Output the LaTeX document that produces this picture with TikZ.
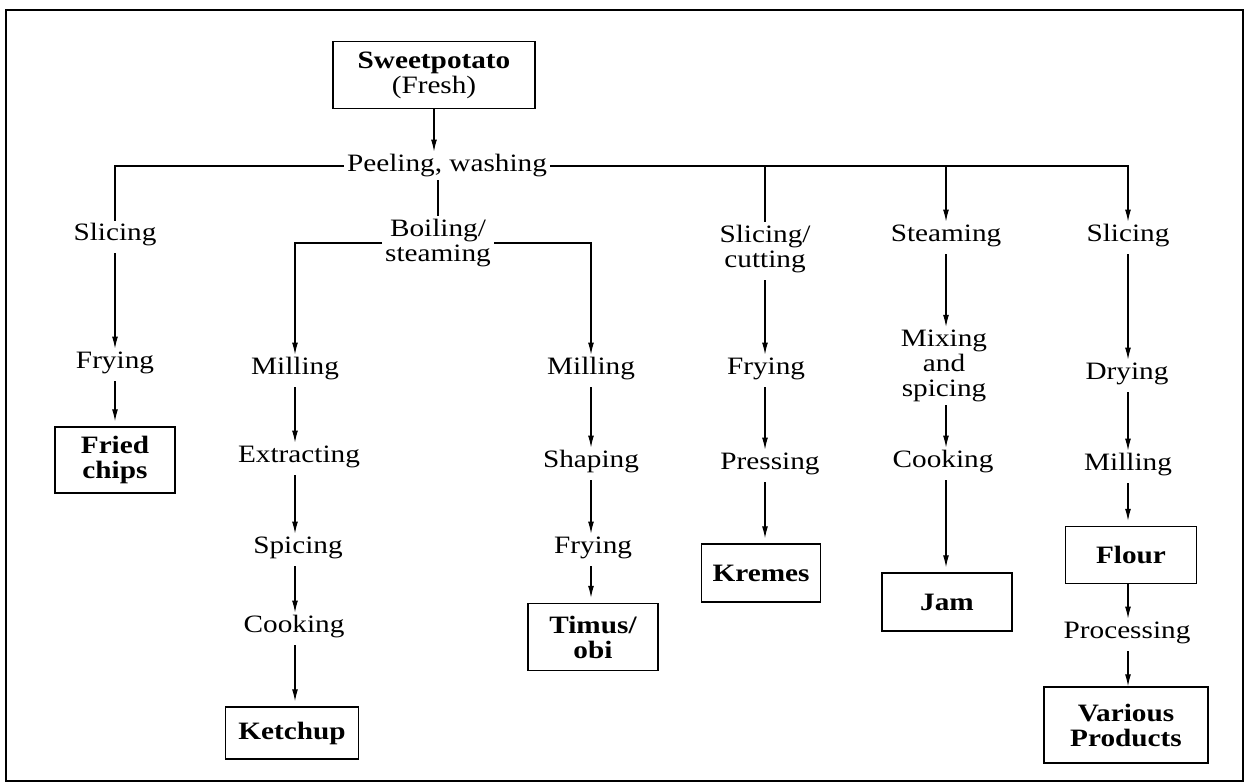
\documentclass[tikz,border=0pt]{standalone}
\usepackage{fontspec}
\setmainfont{Liberation Serif}[FakeStretch=1.17]
\usetikzlibrary{arrows.meta}
\begin{document}
\begin{tikzpicture}[x=1pt,y=-1pt,
  every node/.style={font=\fontsize{25}{25}\selectfont},
  lab/.style={inner sep=3pt,text height=17pt,text depth=5.5pt},
  lab2/.style={inner sep=3pt,align=center},
  prod/.style={draw,line width=1.5pt,align=center,inner sep=0pt,
    font=\fontsize{25}{25}\selectfont\bfseries},
  link/.style={line width=1.1pt},
  flow/.style={line width=1.1pt,-{Latex[length=12pt,width=6pt]}},
  fromlab/.style={shorten <=4pt},
  tobox/.style={shorten >=5pt}]
\useasboundingbox (0,0) rectangle (1248,784);
% outer frame
\draw[line width=1.6pt] (6,10) rectangle (1243,781);

% raw material and first step
\node[prod,minimum width=202pt,minimum height=67pt] (sweet) at (434,75)
  {Sweetpotato\\\mdseries(Fresh)};
\node[lab] (peel) at (447,166) {Peeling, washing};

% second row of steps
\node[lab] (sA) at (115,235) {Slicing};
\node[lab2] (boil) at (438,243) {Boiling/\\steaming};
\node[lab2] (sD) at (765,249) {Slicing/\\cutting};
\node[lab] (stE) at (946,236) {Steaming};
\node[lab] (sF) at (1128,236) {Slicing};

% fried chips line
\node[lab] (fA) at (115,363) {Frying};
\node[prod,minimum width=120pt,minimum height=66pt] (chips) at (115,460) {Fried\\chips};

% ketchup line
\node[lab] (mB) at (295,369) {Milling};
\node[lab] (eB) at (299,457) {Extracting};
\node[lab] (spB) at (298,548) {Spicing};
\node[lab] (cB) at (294,627) {Cooking};
\node[prod,minimum width=133pt,minimum height=52pt] (ketchup) at (292,733) {Ketchup};

% timus/obi line
\node[lab] (mC) at (591,369) {Milling};
\node[lab] (shC) at (591,462) {Shaping};
\node[lab] (fC) at (593,548) {Frying};
\node[prod,minimum width=130pt,minimum height=67pt] (timus) at (593,637) {Timus/\\obi};

% kremes line
\node[lab] (fD) at (766,369) {Frying};
\node[lab] (pD) at (770,464) {Pressing};
\node[prod,minimum width=119pt,minimum height=58pt] (kremes) at (761,573) {Kremes};

% jam line
\node[lab2] (mixE) at (944,366) {Mixing\\and\\spicing};
\node[lab] (cE) at (943,462) {Cooking};
\node[prod,minimum width=130pt,minimum height=58pt] (jam) at (947,602) {Jam};

% flour line
\node[lab] (dF) at (1127,374) {Drying};
\node[lab] (mF) at (1128,465) {Milling};
\node[prod,minimum width=131pt,minimum height=57pt] (flour) at (1131,555) {Flour};
\node[lab] (prF) at (1127,633) {Processing};
\node[prod,minimum width=164pt,minimum height=76pt] (various) at (1126,725) {Various\\Products};

% trunk
\draw[flow] (sweet.south) -- (sweet.south |- peel.north);
\draw[link] (peel.west) -| (sA.north);
\draw[flow] (peel.east) -| (sF.north);
\draw[link] (sD.north |- peel.east) -- (sD.north);
\draw[flow] (stE.north |- peel.east) -- (stE.north);
\draw[link] (boil.north |- peel.south) -- (boil.north);
\draw[flow] (boil.west) -| (mB.north);
\draw[flow] (boil.east) -| (mC.north);

% fried chips
\draw[flow,fromlab] (sA.south) -- (sA.south |- fA.north);
\draw[flow,fromlab,tobox] (fA.south) -- (chips.north);

% ketchup
\draw[flow,fromlab] (mB.south) -- (mB.south |- eB.north);
\draw[flow,fromlab] (mB.south |- eB.south) -- (mB.south |- spB.north);
\draw[flow,fromlab] (mB.south |- spB.south) -- (mB.south |- cB.north);
\draw[flow,fromlab,tobox] (mB.south |- cB.south) -- (mB.south |- ketchup.north);

% timus/obi
\draw[flow,fromlab] (mC.south) -- (mC.south |- shC.north);
\draw[flow,fromlab] (mC.south |- shC.south) -- (mC.south |- fC.north);
\draw[flow,fromlab,tobox] (mC.south |- fC.south) -- (mC.south |- timus.north);

% kremes
\draw[flow,fromlab] (sD.south) -- (sD.south |- fD.north);
\draw[flow,fromlab] (sD.south |- fD.south) -- (sD.south |- pD.north);
\draw[flow,fromlab,tobox] (sD.south |- pD.south) -- (sD.south |- kremes.north);

% jam
\draw[flow,fromlab] (stE.south) -- (stE.south |- mixE.north);
\draw[flow] (stE.south |- mixE.south) -- (stE.south |- cE.north);
\draw[flow,fromlab,tobox] (stE.south |- cE.south) -- (stE.south |- jam.north);

% flour
\draw[flow,fromlab] (sF.south) -- (sF.south |- dF.north);
\draw[flow,fromlab] (sF.south |- dF.south) -- (sF.south |- mF.north);
\draw[flow,fromlab,tobox] (sF.south |- mF.south) -- (sF.south |- flour.north);
\draw[flow] (sF.south |- flour.south) -- (sF.south |- prF.north);
\draw[flow,fromlab] (sF.south |- prF.south) -- (sF.south |- various.north);
\end{tikzpicture}
\end{document}
